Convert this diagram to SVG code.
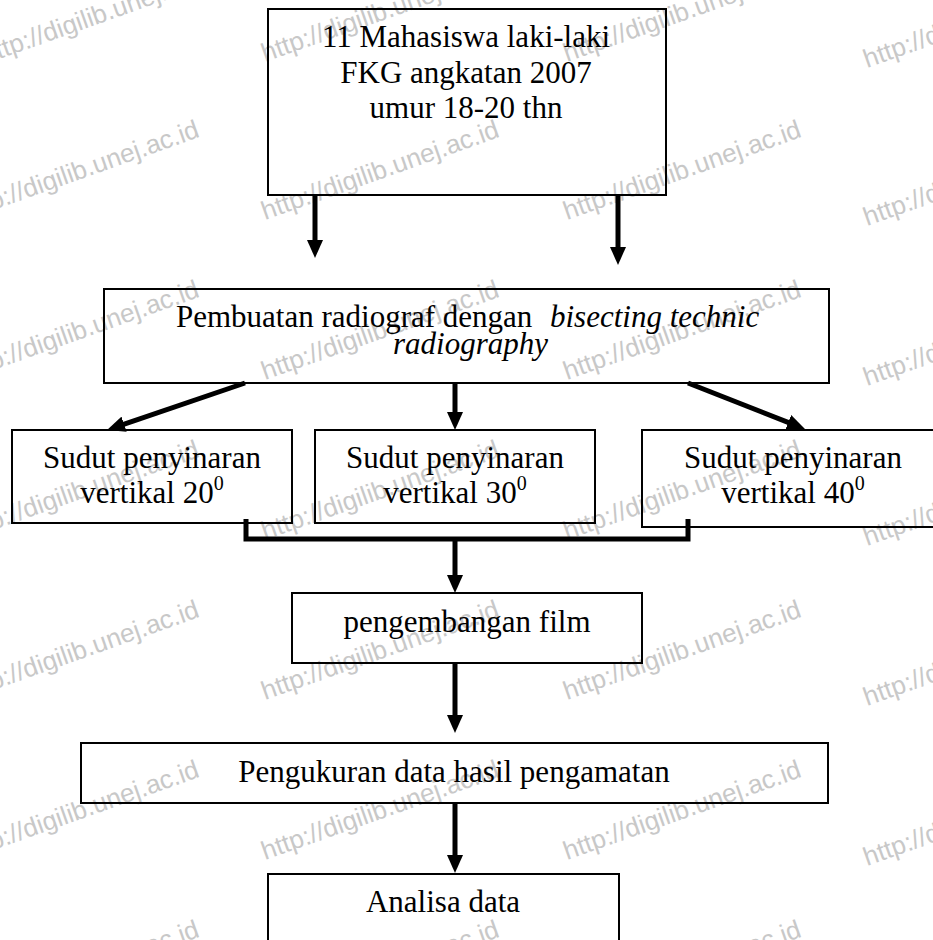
<svg xmlns="http://www.w3.org/2000/svg" width="933" height="940" viewBox="0 0 933 940">
<style>
.box{fill:none;stroke:#000;stroke-width:2}
.t{font-family:"Liberation Serif","Times New Roman",serif;font-size:31px;fill:#000}
.c{text-anchor:middle}
.it{font-style:italic}
.con{fill:none;stroke:#000;stroke-width:5}
.wm{font-family:"Liberation Sans",Arial,sans-serif;font-size:26px;fill:#c8c8c8}
</style>
<defs>
<marker id="ah" viewBox="0 0 18 16" markerWidth="18" markerHeight="16" refX="6" refY="8" orient="auto" markerUnits="userSpaceOnUse"><path d="M0,0 L18,8 L0,16 z" fill="#000"/></marker>
</defs>
<rect width="933" height="940" fill="#fff"/>
<g id="watermark">
<text class="wm" transform="translate(-15,64) rotate(-19.5)">http://digilib.unej.ac.id</text>
<text class="wm" transform="translate(-35,220) rotate(-19.5)">http://digilib.unej.ac.id</text>
<text class="wm" transform="translate(-35,380) rotate(-19.5)">http://digilib.unej.ac.id</text>
<text class="wm" transform="translate(-35,540) rotate(-19.5)">http://digilib.unej.ac.id</text>
<text class="wm" transform="translate(-35,700) rotate(-19.5)">http://digilib.unej.ac.id</text>
<text class="wm" transform="translate(-35,860) rotate(-19.5)">http://digilib.unej.ac.id</text>
<text class="wm" transform="translate(-35,1020) rotate(-19.5)">http://digilib.unej.ac.id</text>
<text class="wm" transform="translate(265,62) rotate(-19.5)">http://digilib.unej.ac.id</text>
<text class="wm" transform="translate(265,220) rotate(-19.5)">http://digilib.unej.ac.id</text>
<text class="wm" transform="translate(265,380) rotate(-19.5)">http://digilib.unej.ac.id</text>
<text class="wm" transform="translate(265,540) rotate(-19.5)">http://digilib.unej.ac.id</text>
<text class="wm" transform="translate(265,700) rotate(-19.5)">http://digilib.unej.ac.id</text>
<text class="wm" transform="translate(265,860) rotate(-19.5)">http://digilib.unej.ac.id</text>
<text class="wm" transform="translate(265,1020) rotate(-19.5)">http://digilib.unej.ac.id</text>
<text class="wm" transform="translate(567,62) rotate(-19.5)">http://digilib.unej.ac.id</text>
<text class="wm" transform="translate(567,220) rotate(-19.5)">http://digilib.unej.ac.id</text>
<text class="wm" transform="translate(567,380) rotate(-19.5)">http://digilib.unej.ac.id</text>
<text class="wm" transform="translate(567,540) rotate(-19.5)">http://digilib.unej.ac.id</text>
<text class="wm" transform="translate(567,700) rotate(-19.5)">http://digilib.unej.ac.id</text>
<text class="wm" transform="translate(567,860) rotate(-19.5)">http://digilib.unej.ac.id</text>
<text class="wm" transform="translate(567,1020) rotate(-19.5)">http://digilib.unej.ac.id</text>
<text class="wm" transform="translate(867,68) rotate(-19.5)">http://digilib.unej.ac.id</text>
<text class="wm" transform="translate(867,226) rotate(-19.5)">http://digilib.unej.ac.id</text>
<text class="wm" transform="translate(867,386) rotate(-19.5)">http://digilib.unej.ac.id</text>
<text class="wm" transform="translate(867,546) rotate(-19.5)">http://digilib.unej.ac.id</text>
<text class="wm" transform="translate(867,706) rotate(-19.5)">http://digilib.unej.ac.id</text>
<text class="wm" transform="translate(867,866) rotate(-19.5)">http://digilib.unej.ac.id</text>
<text class="wm" transform="translate(867,1026) rotate(-19.5)">http://digilib.unej.ac.id</text>
</g>
<g id="connectors">
<line class="con" x1="315" y1="195" x2="315" y2="246" marker-end="url(#ah)"/>
<line class="con" x1="618" y1="195" x2="618" y2="253" marker-end="url(#ah)"/>
<line class="con" x1="245" y1="383" x2="118.4" y2="426.1" stroke-width="6" marker-end="url(#ah)"/>
<line class="con" x1="455" y1="383" x2="455" y2="418" marker-end="url(#ah)"/>
<line class="con" x1="688" y1="383" x2="793.8" y2="424.6" stroke-width="6" marker-end="url(#ah)"/>
<polyline class="con" points="246,519 246,539 688,539 688,519"/>
<line class="con" x1="455" y1="539" x2="455" y2="581" marker-end="url(#ah)"/>
<line class="con" x1="455" y1="663" x2="455" y2="721" marker-end="url(#ah)"/>
<line class="con" x1="455" y1="803" x2="455" y2="861" marker-end="url(#ah)"/>
</g>
<g id="n-subjects">
<rect class="box" x="268" y="9" width="398" height="186"/>
<text class="t c" x="466" y="47">11 Mahasiswa laki-laki</text>
<text class="t c" x="466" y="83">FKG angkatan 2007</text>
<text class="t c" x="466" y="118">umur 18-20 thn</text>
</g>
<g id="n-radiograf">
<rect class="box" x="104" y="289" width="725" height="94"/>
<text class="t" x="176" y="327">Pembuatan radiograf dengan <tspan class="it" x="550">bisecting technic</tspan></text>
<text class="t it" x="548" y="354" text-anchor="end">radiography</text>
</g>
<g id="n-sudut20">
<rect class="box" x="12" y="430" width="280" height="93"/>
<text class="t c" x="152" y="468">Sudut penyinaran</text>
<text class="t c" x="152" y="503">vertikal 20<tspan font-size="20" dy="-13">0</tspan></text>
</g>
<g id="n-sudut30">
<rect class="box" x="315" y="430" width="280" height="93"/>
<text class="t c" x="455" y="468">Sudut penyinaran</text>
<text class="t c" x="455" y="503">vertikal 30<tspan font-size="20" dy="-13">0</tspan></text>
</g>
<g id="n-sudut40">
<rect class="box" x="642" y="430" width="303" height="97"/>
<text class="t c" x="793" y="468">Sudut penyinaran</text>
<text class="t c" x="793" y="503">vertikal 40<tspan font-size="20" dy="-13">0</tspan></text>
</g>
<g id="n-film">
<rect class="box" x="292" y="593" width="350" height="70"/>
<text class="t c" x="467" y="632">pengembangan film</text>
</g>
<g id="n-ukur">
<rect class="box" x="81" y="743" width="747" height="60"/>
<text class="t c" x="454" y="782">Pengukuran data hasil pengamatan</text>
</g>
<g id="n-analisa">
<rect class="box" x="268" y="874" width="351" height="80"/>
<text class="t c" x="443" y="912">Analisa data</text>
</g>
</svg>
